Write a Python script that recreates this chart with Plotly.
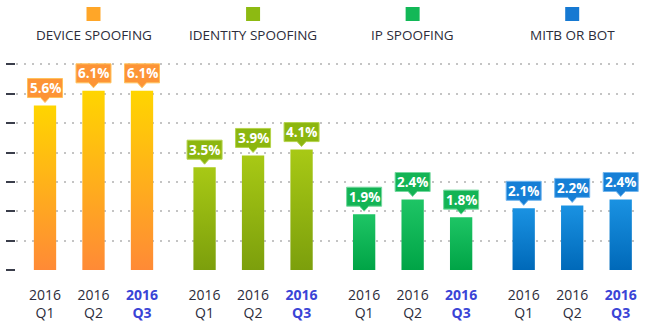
import plotly.graph_objects as go

# ---- data -------------------------------------------------------------
groups = ["DEVICE SPOOFING", "IDENTITY SPOOFING", "IP SPOOFING", "MITB OR BOT"]
quarters = ["Q1", "Q2", "Q3"]
year = "2016"
device_spoofing = [5.6, 6.1, 6.1]
identity_spoofing = [3.5, 3.9, 4.1]
ip_spoofing = [1.9, 2.4, 1.8]
mitb_or_bot = [2.1, 2.2, 2.4]
y_ticks = [0, 1, 2, 3, 4, 5, 6, 7]

series = [device_spoofing, identity_spoofing, ip_spoofing, mitb_or_bot]

# ---- styling ----------------------------------------------------------
bar_top = ["#ffd500", "#a8c915", "#1ec565", "#1a92e2"]
bar_bottom = ["#ff8a36", "#7c9f0c", "#00a446", "#0069b9"]
box_fill = ["#fd9436", "#8cb60f", "#13b455", "#167fd6"]
box_edge = ["#ffc35c", "#b5d44c", "#74d89e", "#72b6ee"]
legend_fill = ["#ffa628", "#8dba12", "#12b857", "#1679d2"]
text_dark = "#2c2c3a"
q3_blue = "#3a44d6"
font_family = "Open Sans"

GROUP_STEP = 3.29
BAR_W = 0.46

fig = go.Figure()
tickvals, ticktext = [], []
shapes, annotations = [], []

for gi, (name, values) in enumerate(zip(groups, series)):
    for qi, (q, v) in enumerate(zip(quarters, values)):
        x = gi * GROUP_STEP + qi
        x0, x1 = x - BAR_W / 2, x + BAR_W / 2
        # bar as a filled outline so it can carry a vertical gradient
        fig.add_trace(go.Scatter(
            x=[x0, x0, x1, x1, x0], y=[0, v, v, 0, 0],
            mode="lines", fill="toself",
            line=dict(width=0, color=bar_top[gi]),
            fillgradient=dict(type="vertical",
                              colorscale=[[0, bar_bottom[gi]], [1, bar_top[gi]]]),
            hoverinfo="skip", showlegend=False,
        ))
        # callout box with a small pointer above the bar
        shapes.append(dict(
            type="path", xref="x", yref="y",
            xsizemode="pixel", ysizemode="pixel",
            xanchor=x, yanchor=v,
            path="M -17.5 8 L -4.5 8 L 0 3 L 4.5 8 L 17.5 8 L 17.5 27 L -17.5 27 Z",
            fillcolor=box_fill[gi], line=dict(color=box_edge[gi], width=1),
            layer="above",
        ))
        annotations.append(dict(
            x=x, y=v, xref="x", yref="y", yanchor="middle", yshift=17.5,
            text=f"<b>{v:.1f}%</b>", showarrow=False,
            font=dict(family=font_family, size=13.5, color="white"),
        ))
        tickvals.append(x)
        if q == "Q3":
            ticktext.append(f"<span style='color:{q3_blue}'><b>{year}</b></span><br>"
                            f"<span style='color:{q3_blue}'><b>{q}</b></span>")
        else:
            ticktext.append(f"{year}<br>{q}")

    # legend entry: square above the name, centred on the group
    cx = gi * GROUP_STEP + 1
    shapes.append(dict(
        type="rect", xref="x", yref="paper",
        xsizemode="pixel", ysizemode="pixel",
        xanchor=cx, yanchor=1,
        x0=-7, x1=7, y0=39, y1=53,
        fillcolor=legend_fill[gi], line=dict(width=0),
    ))
    annotations.append(dict(
        x=cx, y=1, xref="x", yref="paper", yanchor="middle", yshift=25,
        text=name, showarrow=False,
        font=dict(family=font_family, size=13.5, color=text_dark),
    ))

fig.update_layout(
    width=650, height=325,
    margin=dict(l=16, r=10, t=60, b=55),
    paper_bgcolor="white", plot_bgcolor="white",
    shapes=shapes, annotations=annotations,
    showlegend=False,
    font=dict(family=font_family, color=text_dark),
)
fig.update_xaxes(
    range=[-0.598, 12.268],
    tickvals=tickvals, ticktext=ticktext,
    tickfont=dict(family=font_family, size=14, color=text_dark),
    showgrid=False, zeroline=False, showline=False,
    ticks="", ticklabelstandoff=15, automargin=False, fixedrange=True,
)
fig.update_yaxes(
    range=[0, 7.15], tickvals=y_ticks, showticklabels=False,
    ticks="outside", ticklen=9, tickwidth=2, tickcolor="#3a3d4a",
    showgrid=True, gridcolor="#c4c4c4", gridwidth=1.5, griddash="2px,6px",
    zeroline=False, showline=False, automargin=False, fixedrange=True,
)

fig.write_html("out.html", config={"displayModeBar": False})
